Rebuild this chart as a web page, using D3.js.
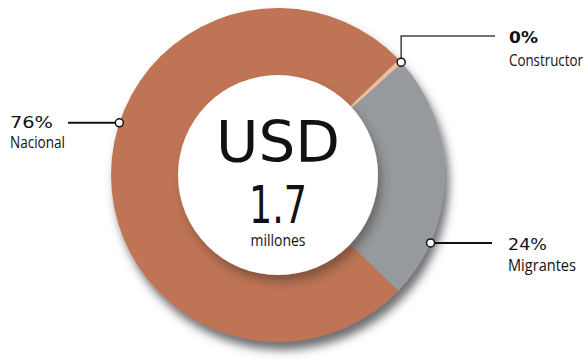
<!DOCTYPE html>
<html>
<head>
<meta charset="utf-8">
<script src="https://cdn.jsdelivr.net/npm/d3@7"></script>
<style>
  html, body { margin: 0; padding: 0; background: #fff; }
  svg { display: block; }
</style>
</head>
<body>
<svg id="chart" width="587" height="362"></svg>
<script>
// Funding sources (share of USD 1.7 millones)
const categories = ["Constructor", "Migrantes", "Nacional"];
const shares = [0.45, 23.9, 75.65];
const colors = ["#e9bd9f", "#979a9d", "#bf7555"];
const totalLabel = ["USD", "1.7", "millones"];

const W = 587, H = 362;
const cx = 278, cy = 175;
const outerR = 167, innerR = 100;
const startDeg = 46.3;

const svg = d3.select("#chart");
const defs = svg.append("defs");

const ringShadow = defs.append("filter").attr("id", "ringShadow")
  .attr("x", "-20%").attr("y", "-20%").attr("width", "140%").attr("height", "140%");
ringShadow.append("feDropShadow")
  .attr("dx", 4).attr("dy", 8).attr("stdDeviation", 5)
  .attr("flood-color", "#4a4c50").attr("flood-opacity", 0.8);

const holeShadow = defs.append("filter").attr("id", "holeShadow")
  .attr("x", "-20%").attr("y", "-20%").attr("width", "140%").attr("height", "140%");
holeShadow.append("feDropShadow")
  .attr("dx", 4).attr("dy", 7).attr("stdDeviation", 5)
  .attr("flood-color", "#3a2a22").attr("flood-opacity", 0.45);

const data = categories.map((c, i) => ({ name: c, value: shares[i], color: colors[i] }));

const pie = d3.pie()
  .sort(null)
  .value(d => d.value)
  .startAngle(startDeg * Math.PI / 180)
  .endAngle(startDeg * Math.PI / 180 + 2 * Math.PI);

const arcs = pie(data);
const arc = d3.arc().innerRadius(0).outerRadius(outerR);

const g = svg.append("g").attr("transform", `translate(${cx},${cy})`);

// Ring body with drop shadow
const ring = g.append("g").attr("filter", "url(#ringShadow)");
ring.selectAll("path")
  .data(arcs)
  .join("path")
  .attr("d", arc)
  .attr("fill", d => d.data.color);

// Centre hole
g.append("circle")
  .attr("r", innerR)
  .attr("fill", "#fff")
  .attr("filter", "url(#holeShadow)");

// Places a text at (x, y) and squeezes it horizontally to the given width
function fitText(parent, str, x, y, width, opts) {
  const wrap = parent.append("g");
  const t = wrap.append("text")
    .attr("font-family", opts.family)
    .attr("font-size", opts.size)
    .attr("font-weight", opts.weight || "normal")
    .attr("fill", "#111")
    .attr("text-anchor", "start")
    .text(str);
  const natural = t.node().getComputedTextLength();
  const sx = width / natural;
  const left = opts.anchor === "middle" ? x - width / 2 : x;
  wrap.attr("transform", `translate(${left},${y}) scale(${sx},1)`);
  return t;
}

// Centre text
const sans = "DejaVu Sans, sans-serif";
const narrow = "Open Sans, sans-serif";
fitText(g, totalLabel[0], 0, -13, 124, { family: sans, size: 56, anchor: "middle" });
fitText(g, totalLabel[1], 0, 48, 58, { family: sans, size: 52, anchor: "middle" });
fitText(g, totalLabel[2], 0, 71, 55, { family: narrow, size: 17, anchor: "middle" });

// Callouts: anchor angle on the ring edge (degrees clockwise from top) and label position
const callouts = [
  { idx: 0, angle: 47.5, path: "elbow", bendY: 36, endX: 495, tx: 509, py: 43, ny: 66, pw: 29, nw: 74, stroke: "#444", sw: 1.5 },
  { idx: 1, angle: 114.0, path: "flat", endX: 492, tx: 508, py: 250, ny: 271, pw: 39, nw: 68, stroke: "#111", sw: 2 },
  { idx: 2, angle: 288.2, path: "flat", endX: 68, tx: 10, py: 128, ny: 148, pw: 43, nw: 55, stroke: "#111", sw: 2 }
];

const lab = svg.append("g");
callouts.forEach(c => {
  const a = c.angle * Math.PI / 180;
  const px = cx + outerR * Math.sin(a);
  const py = cy - outerR * Math.cos(a);
  const line = d3.line();
  const pts = c.path === "elbow"
    ? [[px, py], [px, c.bendY], [c.endX, c.bendY]]
    : [[px, py], [c.endX, py]];
  lab.append("path")
    .attr("d", line(pts))
    .attr("fill", "none")
    .attr("stroke", c.stroke)
    .attr("stroke-width", c.sw);
  lab.append("circle")
    .attr("cx", px).attr("cy", py).attr("r", 4)
    .attr("fill", "#fff").attr("stroke", "#111").attr("stroke-width", 1.5);

  const d = data[c.idx];
  fitText(lab, Math.round(d.value) + "%", c.tx, c.py, c.pw,
    { family: sans, size: 15, weight: c.idx === 0 ? "bold" : "normal" });
  fitText(lab, d.name, c.tx, c.ny, c.nw, { family: narrow, size: 17 });
});
</script>
</body>
</html>
